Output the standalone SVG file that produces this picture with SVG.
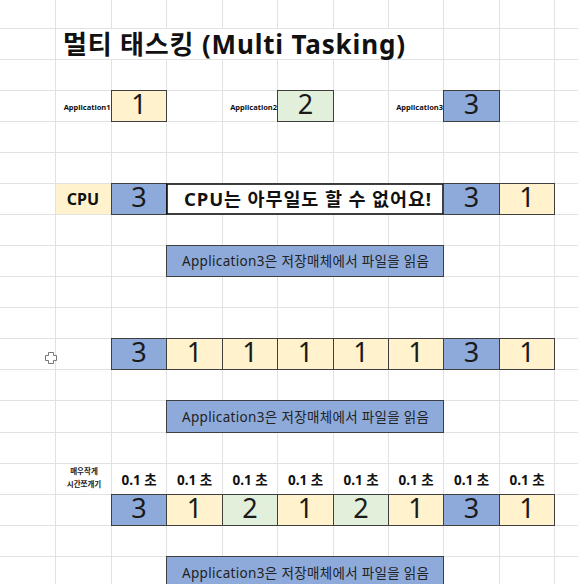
<svg xmlns="http://www.w3.org/2000/svg" width="578" height="584" viewBox="0 0 578 584">
<style>
.g{stroke:#e2e2e2;stroke-width:1;fill:none}
.c{stroke:#3f3f3f;stroke-width:1}
.y{fill:#fff2cc}
.gr{fill:#e2efda}
.b{fill:#8eaadb}
.f{font-family:"Noto Sans","Noto Sans CJK KR",sans-serif}
.d{font-size:27px;fill:#1a1a1a;text-anchor:middle}
.m{font-size:13.5px;fill:#222;text-anchor:middle}
.s{font-size:13.5px;font-weight:bold;fill:#111;text-anchor:middle}
.a{font-size:7.5px;font-weight:bold;fill:#111;text-anchor:end}
</style>
<rect x="0" y="0" width="578" height="584" fill="#fff"/>
<g id="grid">
<path class="g" d="M55.5 0V584M111.5 0V584M166.5 0V584M222.5 0V584M277.5 0V584M333.5 0V584M388.5 0V584M443.5 0V584M499.5 0V584M554.5 0V584"/>
<path class="g" d="M0 28.5H578M0 59.5H578M0 90.5H578M0 121.5H578M0 152.5H578M0 183.5H578M0 214.5H578M0 245.5H578M0 276.5H578M0 307.5H578M0 338.5H578M0 369.5H578M0 400.5H578M0 432.5H578M0 463.5H578M0 494.5H578M0 525.5H578M0 556.5H578"/>
</g>
<g id="title">
<rect x="56" y="29" width="387" height="30" fill="#fff"/>
<text class="f" x="63" y="54" font-size="26" font-weight="bold" fill="#111" textLength="342" lengthAdjust="spacing">멀티 태스킹 (Multi Tasking)</text>
</g>
<g id="apps">
<text class="f a" x="110.5" y="110">Application1</text>
<rect class="c y" x="111.5" y="90.5" width="55" height="31"/>
<text class="f d" x="139" y="114">1</text>
<text class="f a" x="277" y="110">Application2</text>
<rect class="c gr" x="277.5" y="90.5" width="56" height="31"/>
<text class="f d" x="305.5" y="114">2</text>
<text class="f a" x="443" y="110">Application3</text>
<rect class="c b" x="443.5" y="90.5" width="56" height="31"/>
<text class="f d" x="471.5" y="114">3</text>
</g>
<g id="cpu-row">
<rect class="y" x="56" y="184" width="55" height="30"/>
<text class="f" x="83" y="205" font-size="16" font-weight="bold" fill="#111" text-anchor="middle">CPU</text>
<rect class="c b" x="111.5" y="183.5" width="55" height="31"/>
<text class="f d" x="139" y="207">3</text>
<rect x="167" y="184" width="276" height="30" fill="#fff" stroke="#111" stroke-width="1.6"/>
<text class="f" x="307.5" y="205.5" font-size="18.5" font-weight="bold" fill="#111" text-anchor="middle" textLength="247" lengthAdjust="spacing">CPU는 아무일도 할 수 없어요!</text>
<rect class="c b" x="443.5" y="183.5" width="56" height="31"/>
<text class="f d" x="471.5" y="207">3</text>
<rect class="c y" x="499.5" y="183.5" width="55" height="31"/>
<text class="f d" x="527" y="207">1</text>
</g>
<g id="msg1">
<rect class="c b" x="166.5" y="245.5" width="277" height="31"/>
<text class="f m" x="305.5" y="266" textLength="247" lengthAdjust="spacing">Application3은 저장매체에서 파일을 읽음</text>
</g>
<g id="seq1">
<rect class="c b" x="111.5" y="338.5" width="55" height="31"/>
<text class="f d" x="139" y="362">3</text>
<rect class="c y" x="166.5" y="338.5" width="56" height="31"/>
<text class="f d" x="194.5" y="362">1</text>
<rect class="c y" x="222.5" y="338.5" width="55" height="31"/>
<text class="f d" x="250" y="362">1</text>
<rect class="c y" x="277.5" y="338.5" width="56" height="31"/>
<text class="f d" x="305.5" y="362">1</text>
<rect class="c y" x="333.5" y="338.5" width="55" height="31"/>
<text class="f d" x="361" y="362">1</text>
<rect class="c y" x="388.5" y="338.5" width="55" height="31"/>
<text class="f d" x="416" y="362">1</text>
<rect class="c b" x="443.5" y="338.5" width="56" height="31"/>
<text class="f d" x="471.5" y="362">3</text>
<rect class="c y" x="499.5" y="338.5" width="55" height="31"/>
<text class="f d" x="527" y="362">1</text>
</g>
<g id="cursor">
<path d="M48.5 352.5h5v3h3v5h-3v3h-5v-3h-3v-5h3z" fill="#fff" stroke="#777" stroke-width="1"/>
</g>
<g id="msg2">
<rect class="c b" x="166.5" y="400.5" width="277" height="32"/>
<text class="f m" x="305.5" y="421.5" textLength="247" lengthAdjust="spacing">Application3은 저장매체에서 파일을 읽음</text>
</g>
<g id="slices">
<text class="f" x="84" y="474" font-size="7.5" font-weight="bold" fill="#222" text-anchor="middle">매우작게</text>
<text class="f" x="84" y="486.5" font-size="7.5" font-weight="bold" fill="#222" text-anchor="middle">시간쪼개기</text>
<text class="f s" x="139" y="484.5">0.1 초</text>
<text class="f s" x="194.5" y="484.5">0.1 초</text>
<text class="f s" x="250" y="484.5">0.1 초</text>
<text class="f s" x="305.5" y="484.5">0.1 초</text>
<text class="f s" x="361" y="484.5">0.1 초</text>
<text class="f s" x="416" y="484.5">0.1 초</text>
<text class="f s" x="471.5" y="484.5">0.1 초</text>
<text class="f s" x="527" y="484.5">0.1 초</text>
</g>
<g id="seq2">
<rect class="c b" x="111.5" y="494.5" width="55" height="31"/>
<text class="f d" x="139" y="518">3</text>
<rect class="c y" x="166.5" y="494.5" width="56" height="31"/>
<text class="f d" x="194.5" y="518">1</text>
<rect class="c gr" x="222.5" y="494.5" width="55" height="31"/>
<text class="f d" x="250" y="518">2</text>
<rect class="c y" x="277.5" y="494.5" width="56" height="31"/>
<text class="f d" x="305.5" y="518">1</text>
<rect class="c gr" x="333.5" y="494.5" width="55" height="31"/>
<text class="f d" x="361" y="518">2</text>
<rect class="c y" x="388.5" y="494.5" width="55" height="31"/>
<text class="f d" x="416" y="518">1</text>
<rect class="c b" x="443.5" y="494.5" width="56" height="31"/>
<text class="f d" x="471.5" y="518">3</text>
<rect class="c y" x="499.5" y="494.5" width="55" height="31"/>
<text class="f d" x="527" y="518">1</text>
</g>
<g id="msg3">
<rect class="c b" x="166.5" y="556.5" width="277" height="40"/>
<text class="f m" x="305.5" y="577.5" textLength="247" lengthAdjust="spacing">Application3은 저장매체에서 파일을 읽음</text>
</g>
<g id="connectors"></g>
</svg>
